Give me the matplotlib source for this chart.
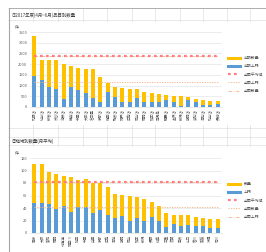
import matplotlib
matplotlib.use("Agg")
import matplotlib.pyplot as plt
import numpy as np
from matplotlib.lines import Line2D

plt.rcParams['font.family'] = ['Noto Sans CJK JP', 'DejaVu Sans']

# ---- data -------------------------------------------------------------
stores1 = ['札幌店', '仙台店', '新宿店', '渋谷店', '池袋店', '横浜店', '千葉店', '大宮店',
           '名古屋', '京都店', '梅田店', '難波店', '神戸店', '広島店', '岡山店', '福岡店',
           '熊本店', '鹿児島', '那覇店', '金沢店', '新潟店', '静岡店', '浜松店', '高松店',
           '松山店', '長崎店']
total1 = [3300, 2200, 2200, 2200, 2000, 1910, 1840, 1760, 1760, 1380, 1130, 910, 910,
          850, 850, 720, 660, 600, 560, 530, 530, 470, 380, 310, 280, 280]
visit1 = [1440, 1250, 940, 820, 380, 940, 780, 660, 410, 220, 720, 470, 240, 220, 410,
          220, 220, 220, 350, 220, 30, 350, 220, 90, 90, 130]
avg1 = 2400       # 全国平均値
avg_visit1 = 1190  # 全国上門
avg_cnt1 = 2400   # 全国数量

stores2 = ['東京', '大阪', '愛知', '福岡', '北海道', '神奈川', '埼玉', '千葉', '兵庫', '京都',
           '広島', '宮城', '静岡', '岡山', '熊本', '新潟', '長野', '岐阜', '三重', '滋賀',
           '奈良', '山口', '香川', '愛媛', '沖縄', '石川']
total2 = [110, 110, 97, 94, 91, 89, 85, 86, 80, 80, 73, 62, 61, 60, 58, 55, 50, 44, 32,
          29, 29, 29, 25, 24, 23, 23]
visit2 = [48, 48, 46, 39, 43, 34, 42, 42, 32, 37, 29, 24, 27, 20, 24, 20, 25, 20, 10,
          14, 11, 13, 12, 12, 8, 8]
avg2 = 82
avg_visit2 = 41
avg_cnt2 = 82

YELLOW = '#FFC000'
BLUE = '#5B9BD5'
RED = '#FF7C80'
ORANGE = '#F4B183'

W, H = 266, 252
fig = plt.figure(figsize=(W / 100, H / 100), dpi=100)
fig.patch.set_facecolor('white')


def px(x0, y0, w, h):
    return [x0 / W, 1 - (y0 + h) / H, w / W, h / H]


# spreadsheet cell grid in the background
for x in [33, 58, 83, 107, 132, 155, 180, 203, 227, 250]:
    fig.add_artist(Line2D([x / W, x / W], [0, 1 - 8 / H], color='#d9d9d9', lw=0.4, zorder=-3))
for y in [8, 20, 128, 137, 145]:
    fig.add_artist(Line2D([0.03, 1], [1 - y / H, 1 - y / H], color='#d9d9d9', lw=0.4, zorder=-3))
fig.add_artist(Line2D([9 / W, 9 / W], [0, 1 - 8 / H], color='#a6a6a6', lw=0.8, zorder=-1))
fig.add_artist(Line2D([9 / W, 1], [1 - 8 / H, 1 - 8 / H], color='#a6a6a6', lw=0.6, zorder=-1))

# white chart boxes
for (y0, h) in [(22, 103), (147, 105)]:
    fig.add_artist(plt.Rectangle((10 / W, 1 - (y0 + h) / H), 254 / W, h / H,
                                 facecolor='white', edgecolor='none', zorder=-2))


def draw(ax, labels, total, visit, avg, avg_v, avg_c, ymax, step, names, legend_y):
    ax.set_facecolor('none')
    x = np.arange(len(labels))
    rest = np.array(total) - np.array(visit)
    ax.bar(x, visit, width=0.55, color=BLUE, zorder=2)
    ax.bar(x, rest, bottom=visit, width=0.55, color=YELLOW, zorder=2)
    ax.plot(x, [avg_c] * len(x), color=ORANGE, lw=0.6, ls=(0, (4, 2, 1, 2)), zorder=2)
    ax.plot(x, [avg] * len(x), color=RED, lw=1.6, ls=(0, (1.2, 1.5)), zorder=3)
    ax.plot(x, [avg_v] * len(x), color=ORANGE, lw=0.6, ls=(0, (1.5, 1.5)), zorder=3)
    ax.set_xlim(-0.6, len(x) - 0.4)
    ax.set_ylim(0, ymax)
    ax.set_yticks(np.arange(0, ymax + 1, step))
    ax.yaxis.grid(True, color='#e0e0e0', lw=0.4)
    ax.set_axisbelow(True)
    ax.set_xticks(x)
    ax.set_xticklabels(labels, rotation=90, fontsize=2.6, color='#595959')
    ax.tick_params(axis='y', labelsize=2.8, labelcolor='#595959', length=0, pad=2)
    ax.tick_params(axis='x', length=0, pad=1.5)
    for s in ['top', 'right', 'left']:
        ax.spines[s].set_visible(False)
    ax.spines['bottom'].set_color('#d9d9d9')
    ax.spines['bottom'].set_linewidth(0.4)
    ax.text(-0.08, 1.04, '件', transform=ax.transAxes, fontsize=3, color='#595959')

    handles = [
        Line2D([], [], color=YELLOW, lw=2.2),
        Line2D([], [], color=BLUE, lw=2.2),
        Line2D([], [], color=RED, lw=1.6, ls=(0, (1.2, 1.5))),
        Line2D([], [], color=ORANGE, lw=0.6, ls=(0, (1.5, 1.5))),
        Line2D([], [], color=ORANGE, lw=0.6, ls=(0, (4, 2, 1, 2))),
    ]
    fig.legend(handles, names, loc='upper left', bbox_to_anchor=(226 / W, 1 - legend_y / H),
               frameon=False, fontsize=2.8, handlelength=3.2, labelspacing=1.1,
               handletextpad=0.8, labelcolor='#595959', borderpad=0)


ax1 = fig.add_axes(px(30, 32, 192, 75))
draw(ax1, stores1, total1, visit1, avg1, avg_visit1, avg_cnt1, 3500, 500,
     ['半期数量', '半期上門', '全国平均値', '全国上門', '全国数量'], 54)
fig.text(12 / W, 1 - 15 / H, '①2017年度(4月~6月)品目別数量', fontsize=3.2,
         color='#404040', va='center')

ax2 = fig.add_axes(px(30, 158, 192, 75))
draw(ax2, stores2, total2, visit2, avg2, avg_visit2, avg_cnt2, 120, 20,
     ['数量', '上門', '全国平均値', '全国数量', '全国上門'], 180)
fig.text(12 / W, 1 - 141 / H, '②地域別数量(月平均)', fontsize=3.2,
         color='#404040', va='center')

fig.savefig('out.png', dpi=100)
